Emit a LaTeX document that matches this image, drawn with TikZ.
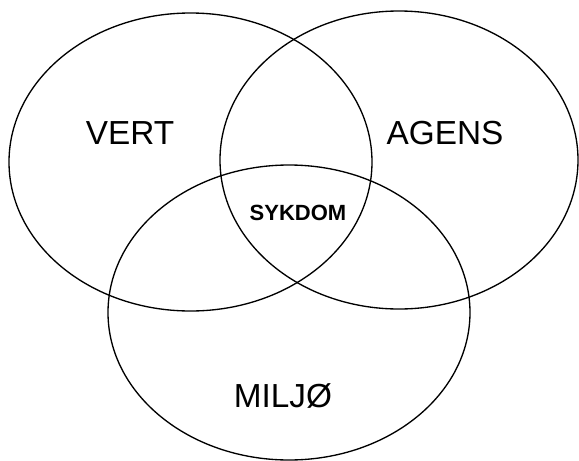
\documentclass[tikz,border=0pt]{standalone}
\usepackage{fontspec}
\setmainfont{Liberation Sans}
\tikzset{every picture/.style={line width=1pt}}
\tikzset{
venn label/.style={anchor=center, inner sep=0.75pt, font=\fontsize{25}{30}\selectfont},
core label/.style={anchor=center, inner sep=0.75pt, font=\fontsize{16.5}{20}\selectfont\bfseries}}

\begin{document}
\begin{tikzpicture}[x=0.75pt,y=0.75pt,yscale=-1,xscale=1]
\useasboundingbox (0,0) rectangle (579,461);

%Shape: Ellipse [VERT]
\draw   (190.5,162) ellipse [x radius=181.5, y radius=149] ;
%Shape: Ellipse [AGENS]
\draw   (399,160) ellipse [x radius=179, y radius=149] ;
%Shape: Ellipse [MILJO]
\draw   (289,312.5) ellipse [x radius=181, y radius=147.5] ;

% Text Node
\draw (130,133) node [venn label] (vert)   {VERT};
% Text Node
\draw (445,133) node [venn label] (agens)  {AGENS};
% Text Node
\draw (283,396) node [venn label] (miljo)  {MILJØ};
% Text Node
\draw (298,213) node [core label] (sykdom) {SYKDOM};

\end{tikzpicture}
\end{document}
